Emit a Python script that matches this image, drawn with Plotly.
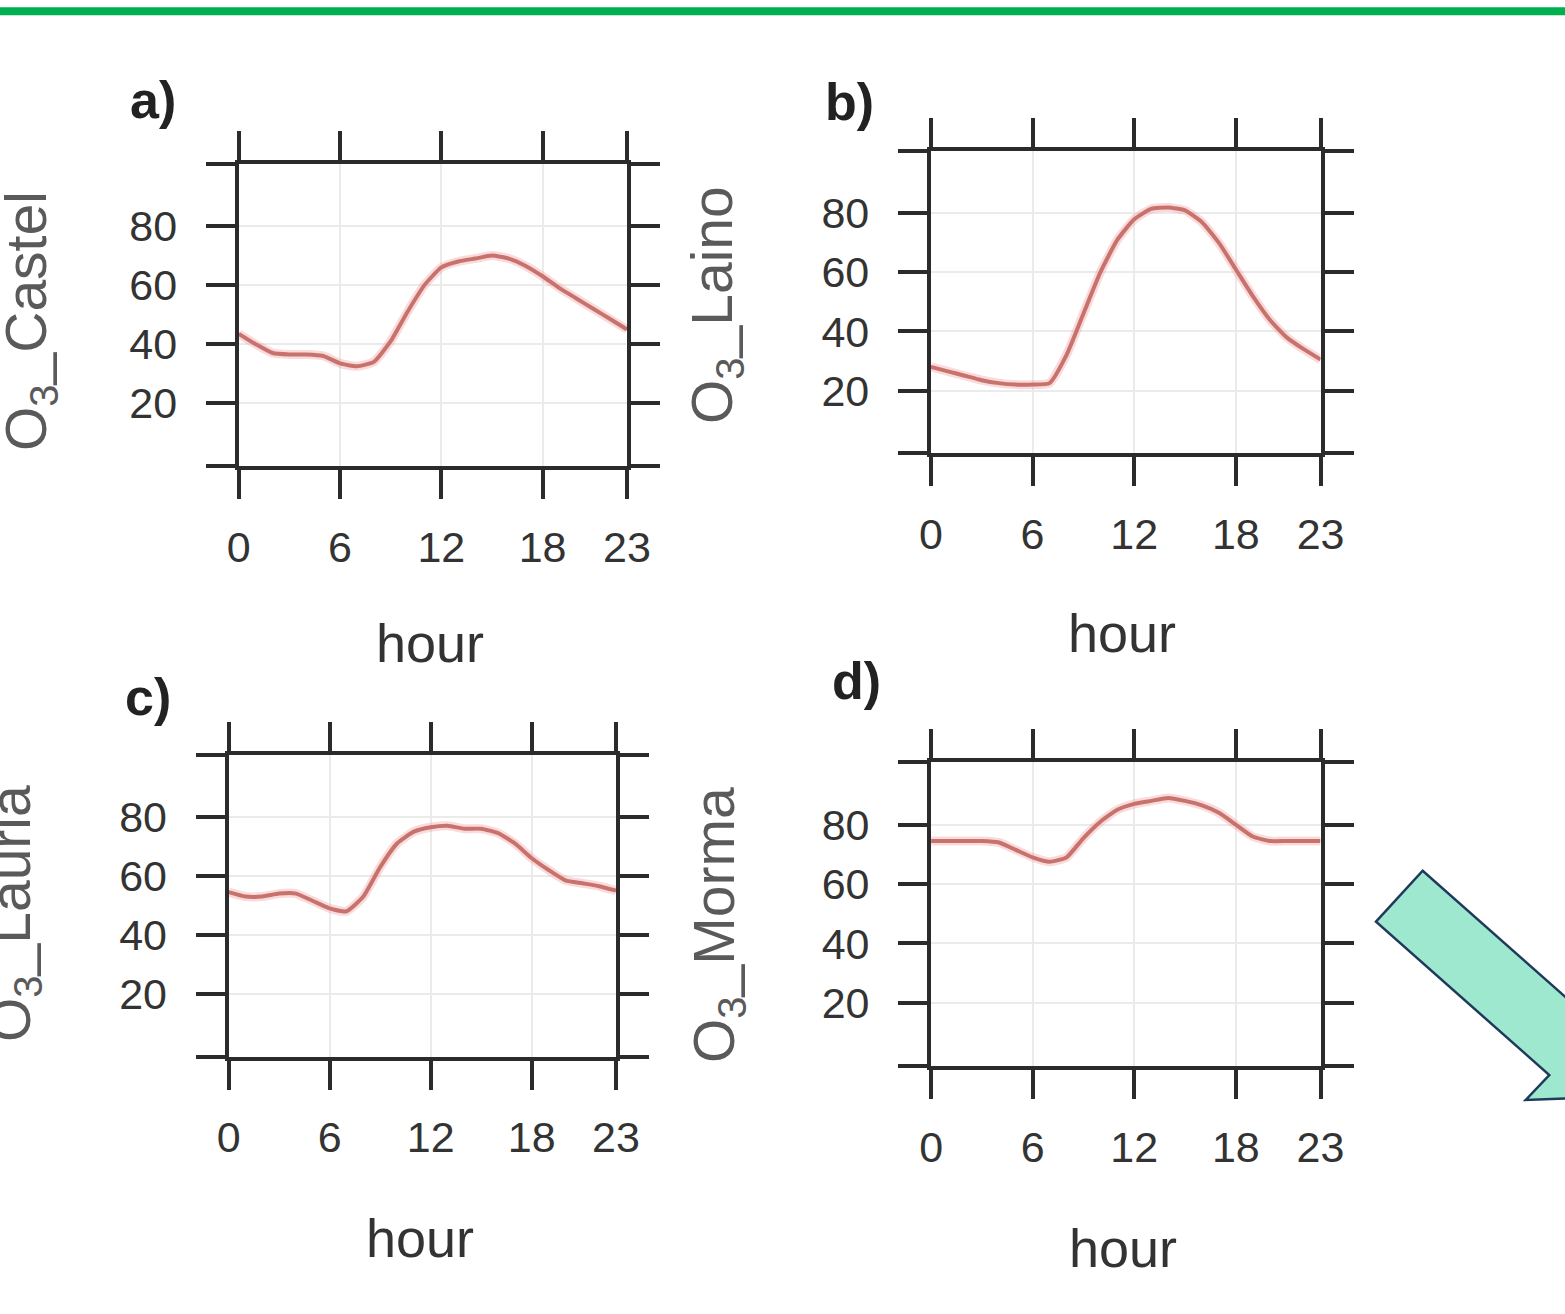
import plotly.graph_objects as go

# ---------------- data ----------------
hours = list(range(24))
station_names = ["Castel", "Laino", "Lauria", "Morma"]
panel_letters = ["a)", "b)", "c)", "d)"]

o3_castel = [43.5, 40, 37, 36.5, 36.5, 36, 33.5, 32.5, 34, 41, 51, 60,
             66, 68, 69, 70, 69, 66.5, 63, 59, 55.5, 52, 48.5, 45]
o3_laino = [28, 26.5, 25, 23.5, 22.5, 22, 22, 22.5, 32, 46, 60, 71,
            78, 81.5, 82, 81, 77, 70, 61, 52, 44, 38, 34, 30.5]
o3_lauria = [54.5, 53, 53, 54, 54, 51.5, 49, 48, 53, 63, 71, 75,
             76.5, 77, 76, 76, 74.5, 71, 66, 62, 58.5, 57.5, 56.5, 55]
o3_morma = [74.5, 74.5, 74.5, 74.5, 74, 71.5, 69, 67.5, 69, 75.5, 81, 85,
            87, 88, 89, 88, 86.5, 84, 80, 76, 74.5, 74.5, 74.5, 74.5]

x_tick_vals = [0, 6, 12, 18, 23]
y_tick_vals = [20, 40, 60, 80]
x_title = "hour"

series = [o3_castel, o3_laino, o3_lauria, o3_morma]

# ---------------- layout helpers ----------------
W, H = 1565, 1314
def px(x):
    return x / W
def py(y):
    return 1 - y / H

# panel boxes in pixels: (left, right, top, bottom)
boxes = [(238.8, 627.0, 163.8, 466.1),
         (930.9, 1320.6, 151.1, 453.4),
         (228.6, 616.0, 754.7, 1056.7),
         (931.1, 1320.5, 762.0, 1066.1)]
letter_pos = [(153, 100), (850, 102), (148, 697), (856, 681)]
ytitle_pos = [(30, 321), (716, 305), (14, 914), (718, 925)]
xtitle_pos = [(430, 643), (1122, 633), (420, 1238), (1123, 1248)]

Y_LO, Y_HI = -1.3, 101.1
FRAME = "#2b2b2b"
FONT = "Liberation Sans, Arial, sans-serif"

fig = go.Figure()
layout = dict(
    width=W, height=H,
    margin=dict(l=0, r=0, t=0, b=0, pad=0, autoexpand=False),
    paper_bgcolor="white", plot_bgcolor="white",
    showlegend=False,
    font=dict(family=FONT, color="#333333"),
)
annotations = []

for i, (vals, name) in enumerate(zip(series, station_names)):
    n = "" if i == 0 else str(i + 1)
    xa, ya = "x" + n, "y" + n
    # soft halo
    fig.add_trace(go.Scatter(x=hours, y=vals, mode="lines", xaxis=xa, yaxis=ya,
                             line=dict(color="rgba(240,150,150,0.35)", width=9,
                                       shape="spline", smoothing=0.5),
                             hoverinfo="skip"))
    fig.add_trace(go.Scatter(x=hours, y=vals, mode="lines", xaxis=xa, yaxis=ya,
                             line=dict(color="#c8726e", width=4,
                                       shape="spline", smoothing=0.5)))
    l, r, t, b = boxes[i]
    common = dict(showline=True, linewidth=4, linecolor=FRAME, mirror="ticks",
                  ticks="outside", ticklen=29, tickwidth=4, tickcolor=FRAME,
                  showgrid=True, gridcolor="#ebebeb", gridwidth=1.5,
                  zeroline=False, fixedrange=True, automargin=False,
                  tickfont=dict(size=43, color="#333333", family=FONT))
    layout["xaxis" + n] = dict(common, domain=[px(l), px(r)], anchor=ya,
                               range=[0, 23], tickmode="array",
                               tickvals=x_tick_vals,
                               ticktext=[str(v) for v in x_tick_vals],
                               ticklabelstandoff=11)
    layout["yaxis" + n] = dict(common, domain=[py(b), py(t)], anchor=xa,
                               range=[Y_LO, Y_HI], tickmode="array",
                               tickvals=[Y_LO] + y_tick_vals + [Y_HI],
                               ticktext=[""] + [str(v) for v in y_tick_vals] + [""],
                               ticklabelstandoff=20)
    lx, ly = letter_pos[i]
    annotations.append(dict(x=px(lx), y=py(ly), xref="paper", yref="paper",
                            text="<b>" + panel_letters[i] + "</b>", showarrow=False,
                            xanchor="center", yanchor="middle",
                            font=dict(size=52, color="#222222", family=FONT)))
    tx, ty = ytitle_pos[i]
    annotations.append(dict(x=px(tx), y=py(ty), xref="paper", yref="paper",
                            text="O<sub>3</sub>_" + name, textangle=-90,
                            showarrow=False, xanchor="center", yanchor="middle",
                            font=dict(size=57, color="#5a5a5a", family=FONT)))
    hx, hy = xtitle_pos[i]
    annotations.append(dict(x=px(hx), y=py(hy), xref="paper", yref="paper",
                            text=x_title, showarrow=False,
                            xanchor="center", yanchor="middle",
                            font=dict(size=54, color="#333333", family=FONT)))

layout["annotations"] = annotations

# decorative slide elements: green rule and arrow
arrow_pts = [(1376, 921.7), (1422.7, 870.7), (1596, 1024), (1619.6, 999),
             (1625, 1096), (1525.7, 1100), (1549.3, 1075)]
path = "M " + " L ".join(f"{px(x):.5f},{py(y):.5f}" for x, y in arrow_pts) + " Z"
layout["shapes"] = [
    dict(type="line", xref="paper", yref="paper", x0=-0.01, x1=1.01,
         y0=py(11.3), y1=py(11.3), line=dict(color="#00b050", width=8)),
    dict(type="path", xref="paper", yref="paper", path=path,
         fillcolor="#9fe8d0", line=dict(color="#1f3a5a", width=2.5)),
]

fig.update_layout(**layout)
fig.write_html("out.html",
               config={"displayModeBar": False},
               post_script="document.body.style.margin='0';"
                           "document.body.style.overflow='hidden';")
